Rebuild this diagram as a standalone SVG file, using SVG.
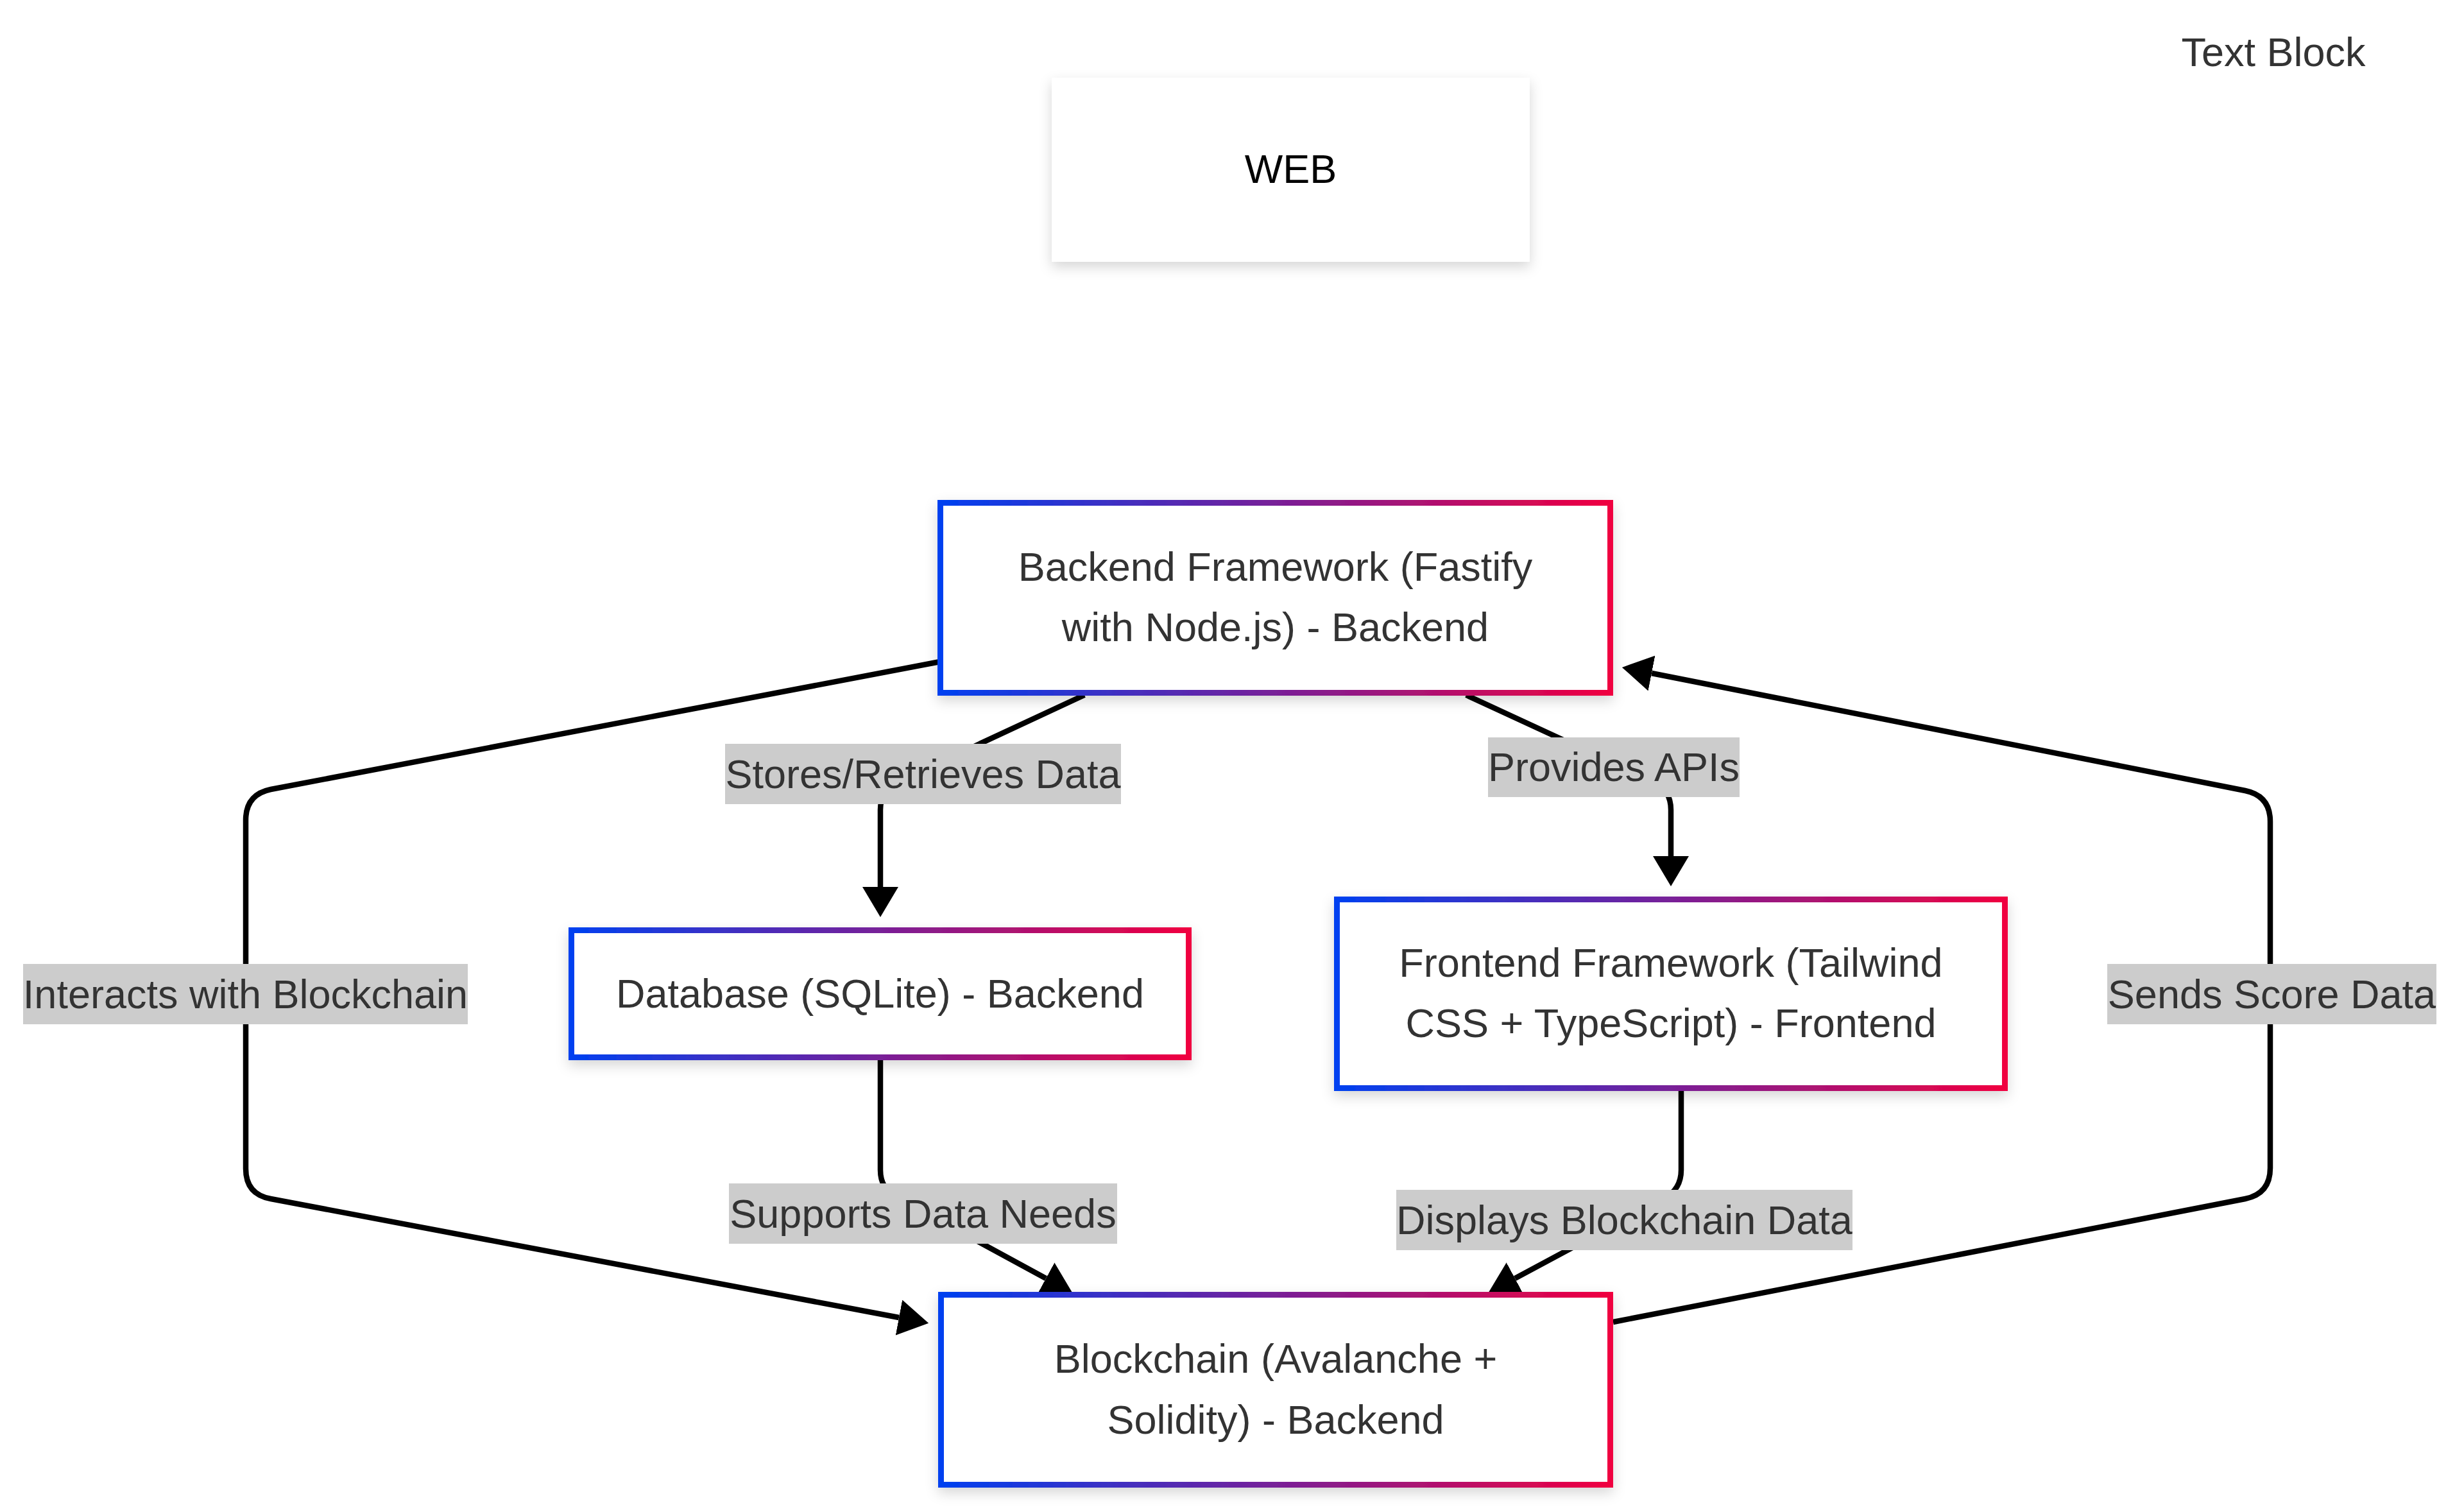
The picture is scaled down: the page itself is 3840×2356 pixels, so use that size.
<svg xmlns="http://www.w3.org/2000/svg" width="3840" height="2356" viewBox="0 0 3840 2356">
  <defs>
    <linearGradient id="borderGrad" x1="0" y1="0" x2="1" y2="0">
      <stop offset="0" stop-color="#0040f0"/>
      <stop offset="1" stop-color="#f00040"/>
    </linearGradient>
    <filter id="shadow" x="-10%" y="-20%" width="120%" height="150%">
      <feDropShadow dx="0" dy="8" stdDeviation="10" flood-color="#000" flood-opacity="0.16"/>
    </filter>
    <marker id="arrow" markerUnits="userSpaceOnUse" viewBox="0 0 47 56" markerWidth="47" markerHeight="56" refX="0" refY="28" orient="auto">
      <path d="M0,0 L47,28 L0,56 z" fill="#000"/>
    </marker>
    <style>
      .edge { fill: none; stroke: #000; stroke-width: 8.5; marker-end: url(#arrow); }
      .lbl-bg { fill: #cccccc; }
      .lbl { font-family: "Liberation Sans", Arial, sans-serif; font-size: 63px; fill: #333; text-anchor: middle; }
      .node rect.box { fill: #fff; stroke: url(#borderGrad); stroke-width: 9; filter: url(#shadow); }
      .ntext { font-family: "Liberation Sans", Arial, sans-serif; font-size: 63px; fill: #333; text-anchor: middle; }
    </style>
  </defs>
  <rect width="3840" height="2356" fill="#fff"/>

  <g id="connectors">
    <path class="edge" d="M1690,1083 L1400,1218 Q1372,1231 1372,1262 L1372,1382"/>
    <path class="edge" d="M2285,1083 L2577,1218 Q2604,1231 2604,1262 L2604,1334"/>
    <path class="edge" d="M1372,1652 L1372,1823 Q1372,1853 1398,1866 L1630,1992"/>
    <path class="edge" d="M2620,1700 L2620,1823 Q2620,1853 2594,1867 L2361,1992"/>
    <path class="edge" d="M1465,1031 L422,1230 Q383,1238 383,1278 L383,1821 Q383,1861 422,1868 L1401,2053"/>
    <path class="edge" d="M2514,2060 L3499,1868 Q3538,1860 3538,1820 L3538,1280 Q3538,1240 3499,1232 L2574,1049"/>
  </g>

  <g id="edge-labels">
    <g id="label-stores">
      <rect class="lbl-bg" x="1130" y="1159" width="617" height="94"/>
      <text class="lbl" x="1438.5" y="1228">Stores/Retrieves Data</text>
    </g>
    <g id="label-provides">
      <rect class="lbl-bg" x="2319" y="1149" width="392" height="93"/>
      <text class="lbl" x="2515" y="1217">Provides APIs</text>
    </g>
    <g id="label-interacts">
      <rect class="lbl-bg" x="36" y="1502" width="693" height="94"/>
      <text class="lbl" x="382.5" y="1571">Interacts with Blockchain</text>
    </g>
    <g id="label-sends">
      <rect class="lbl-bg" x="3284" y="1502" width="513" height="94"/>
      <text class="lbl" x="3540.5" y="1571">Sends Score Data</text>
    </g>
    <g id="label-supports">
      <rect class="lbl-bg" x="1136" y="1844" width="605" height="94"/>
      <text class="lbl" x="1438.5" y="1913">Supports Data Needs</text>
    </g>
    <g id="label-displays">
      <rect class="lbl-bg" x="2176" y="1854" width="711" height="94"/>
      <text class="lbl" x="2531.5" y="1923">Displays Blockchain Data</text>
    </g>
  </g>

  <g id="web" class="node">
    <rect x="1639" y="121" width="745" height="287" fill="#fff" filter="url(#shadow)"/>
    <text x="2011.5" y="285" font-family="'Liberation Sans', Arial, sans-serif" font-size="63" fill="#000" text-anchor="middle">WEB</text>
  </g>

  <g id="text-block">
    <text x="3543" y="103" font-family="'Liberation Sans', Arial, sans-serif" font-size="63" fill="#333" text-anchor="middle">Text Block</text>
  </g>

  <g id="backend" class="node">
    <rect class="box" x="1465.5" y="783.5" width="1044" height="296"/>
    <text class="ntext" x="1987.5" y="905">Backend Framework (Fastify</text>
    <text class="ntext" x="1987.5" y="999">with Node.js) - Backend</text>
  </g>

  <g id="database" class="node">
    <rect class="box" x="890.5" y="1449.5" width="962" height="198"/>
    <text class="ntext" x="1371.5" y="1570">Database (SQLite) - Backend</text>
  </g>

  <g id="frontend" class="node">
    <rect class="box" x="2083.5" y="1401.5" width="1041" height="294"/>
    <text class="ntext" x="2604" y="1522">Frontend Framework (Tailwind</text>
    <text class="ntext" x="2604" y="1616">CSS + TypeScript) - Frontend</text>
  </g>

  <g id="blockchain" class="node">
    <rect class="box" x="1466.5" y="2017.5" width="1043" height="296"/>
    <text class="ntext" x="1988" y="2139">Blockchain (Avalanche +</text>
    <text class="ntext" x="1988" y="2234">Solidity) - Backend</text>
  </g>
</svg>
